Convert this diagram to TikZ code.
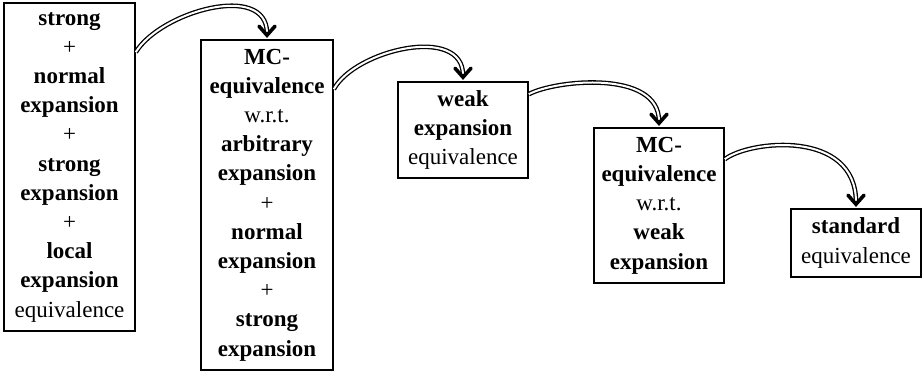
\documentclass[tikz,border=0pt]{standalone}
\usepackage{fontspec}
\setmainfont{Liberation Serif}
\usetikzlibrary{calc}
\tikzset{
  box/.style={draw, line width=1.6pt, align=center, inner sep=0pt,
    font=\fontsize{23}{29.2}\selectfont},
  link/.style={draw, line width=1.3pt, double, double distance=2pt, shorten >=6pt},
  chevron/.style={line width=3.6pt, line cap=round, line join=miter}
}
\begin{document}
\begin{tikzpicture}[x=1pt,y=-1pt]
\useasboundingbox (0,0) rectangle (922,373);

\node[box, minimum width=131pt, minimum height=328pt] (b1) at (69.5,167)
  {\textbf{strong}\\+\\\textbf{normal}\\\textbf{expansion}\\+\\\textbf{strong}\\\textbf{expansion}\\+\\\textbf{local}\\\textbf{expansion}\\equivalence};
\node[box, minimum width=132pt, minimum height=330pt] (b2) at (267,205)
  {\textbf{MC-}\\\textbf{equivalence}\\w.r.t.\\\textbf{arbitrary}\\\textbf{expansion}\\+\\\textbf{normal}\\\textbf{expansion}\\+\\\textbf{strong}\\\textbf{expansion}};
\node[box, minimum width=130pt, minimum height=96pt] (b3) at (463,130)
  {\textbf{weak}\\\textbf{expansion}\\equivalence};
\node[box, minimum width=130pt, minimum height=155pt] (b4) at (659,205.5)
  {\textbf{MC-}\\\textbf{equivalence}\\w.r.t.\\\textbf{weak}\\\textbf{expansion}};
\node[box, minimum width=130pt, minimum height=68pt] (b5) at (856,243)
  {\textbf{standard}\\equivalence};

% curved double connectors
\draw[link] ($(b1.north east)+(0,50)$) .. controls (160,12) and ($(b2.north)+(0,-58)$) .. (b2.north);
\draw[link] ($(b2.north east)+(0,50)$) .. controls (355,50) and ($(b3.north)+(0,-57)$) .. (b3.north);
\draw[link] ($(b3.north east)+(0,13)$) .. controls (555,80) and ($(b4.north)+(0,-58)$) .. (b4.north);
\draw[link] ($(b4.north east)+(0,32)$) .. controls (750,140) and ($(b5.north)+(0,-79)$) .. (b5.north);

% arrow heads: thick chevrons pointing down onto each box
\foreach \n in {b2,b3,b4,b5}
  \draw[chevron] ($(\n.north)+(-8,-13)$) -- ($(\n.north)+(0,-4)$) -- ($(\n.north)+(8,-13)$);
\end{tikzpicture}
\end{document}
